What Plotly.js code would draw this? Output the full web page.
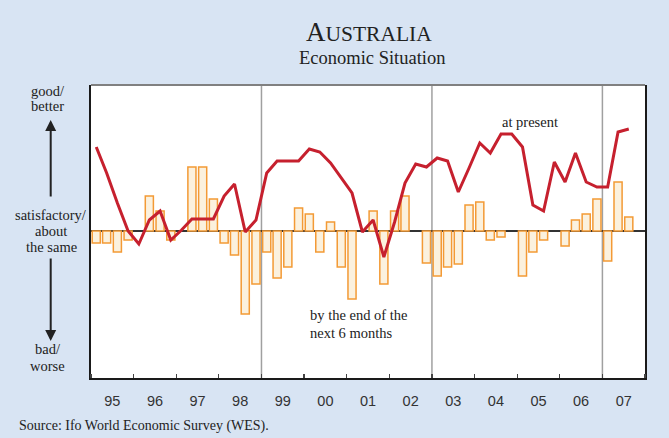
<!DOCTYPE html>
<html>
<head>
<meta charset="utf-8">
<script src="https://cdn.plot.ly/plotly-3.0.1.min.js"></script>
<style>
  html, body { margin: 0; padding: 0; background: #d8e4f3; }
  #chart { width: 669px; height: 438px; }
</style>
</head>
<body>
<div id="chart"></div>
<script>
// ---- Data (quarterly, 1995 Q1 - 2007 Q3) ----
const years = [1995, 1996, 1997, 1998, 1999, 2000, 2001, 2002, 2003, 2004, 2005, 2006, 2007];
const quarterMid = ['02-15', '05-15', '08-15', '11-15'];
const yearLabels = ['95', '96', '97', '98', '99', '00', '01', '02', '03', '04', '05', '06', '07'];

// Economic situation "at present" (line)
const atPresent = [
  84, 58, 28, 0,
  -13, 11, 20, -9,
  1, 12, 12, 12,
  35, 47, -1, 11,
  58, 70, 70, 70,
  82, 79, 68, 53,
  38, -1, 11, -26,
  9, 48, 67, 64,
  73, 70, 39, 63,
  88, 78, 97, 97,
  84, 26, 20, 69,
  49, 78, 49, 44,
  44, 99, 102
];

// Expectations "by the end of the next 6 months" (bars)
const expectations = [
  -12, -12, -21, -9,
  null, 35, 20, -9,
  null, 64, 64, 32,
  -12, -24, -83, -53,
  -21, -47, -36, 23,
  17, -21, 9, -36,
  -68, null, 20, -53,
  20, 35, null, -32,
  -45, -36, -33, 26,
  29, -9, -6, null,
  -45, -21, -9, null,
  -15, 11, 17, 32,
  -30, 49, 14
];

const dividerYears = ['1999-01-01', '2003-01-01', '2007-01-01'];

// ---- Build quarter dates ----
const quarters = [];
years.forEach(y => quarterMid.forEach(m => quarters.push(y + '-' + m)));
const xBar = quarters.slice(0, expectations.length);
const xLine = quarters.slice(0, atPresent.length);
const yearMid = years.map(y => y + '-07-02');

const serif = 'Liberation Serif, Times New Roman, serif';
const sans = 'Liberation Sans, Arial, sans-serif';

const traces = [
  {
    type: 'bar',
    x: xBar,
    y: expectations,
    width: 0.19 * 365.25 * 86400000,
    marker: { color: '#fbf1de', line: { color: '#f39a35', width: 1.5 } },
    hoverinfo: 'x+y',
    showlegend: false
  },
  {
    type: 'scatter',
    mode: 'lines',
    x: xLine,
    y: atPresent,
    line: { color: '#c6202e', width: 3 },
    showlegend: false
  }
];

const W = 554, H = 293, L = 91, T = 85;
const xp = px => (px - L) / W;
const yp = py => (T + H - py) / H;

const shapes = dividerYears.map(d => ({
  type: 'line', xref: 'x', yref: 'paper', x0: d, x1: d, y0: 0, y1: 1,
  line: { color: '#a0a0a0', width: 1.5 }, layer: 'below'
}));
shapes.push({
  type: 'line', xref: 'paper', yref: 'paper', x0: 0, x1: 1, y0: 1, y1: 1,
  line: { color: '#808080', width: 2 }
});

function txt(text, px, py, size, opts) {
  return Object.assign({
    text: text, xref: 'paper', yref: 'paper', x: xp(px), y: yp(py),
    xanchor: 'center', yanchor: 'middle', showarrow: false,
    font: { family: serif, size: size, color: '#222' }
  }, opts || {});
}

const annotations = [
  txt('<span style="font-size:27px">A</span>USTRALIA', 369, 32, 21.5),
  txt('Economic Situation', 372, 58, 18.5),
  txt('good/', 48, 91, 14.5),
  txt('better', 48, 106, 14.5),
  txt('satisfactory/', 51, 215, 14.5),
  txt('about', 51, 231, 14.5),
  txt('the same', 51, 247, 14.5),
  txt('bad/', 48, 349, 14.5),
  txt('worse', 48, 366, 14.5),
  txt('at present', 530, 122, 14.5),
  txt('by the end of the', 308, 315, 14.5, { xanchor: 'left' }),
  txt('next 6 months', 308, 333, 14.5, { xanchor: 'left' }),
  txt('Source: Ifo World Economic Survey (WES).', 17, 426, 14, { xanchor: 'left' }),
  {
    text: '', xref: 'paper', yref: 'paper', x: xp(50.7), y: yp(120),
    showarrow: true, ax: 0, ay: 78, arrowhead: 2, arrowsize: 1.1, arrowwidth: 2, arrowcolor: '#222'
  },
  {
    text: '', xref: 'paper', yref: 'paper', x: xp(50.7), y: yp(341),
    showarrow: true, ax: 0, ay: -84, arrowhead: 2, arrowsize: 1.1, arrowwidth: 2, arrowcolor: '#222'
  }
];

const layout = {
  width: 669, height: 438,
  margin: { l: L, r: 669 - L - W, t: T, b: 438 - T - H, pad: 0 },
  paper_bgcolor: '#d8e4f3',
  plot_bgcolor: '#ffffff',
  bargap: 0,
  xaxis: {
    type: 'date',
    range: ['1995-01-01', '2008-01-01'],
    tick0: '1995-01-01', dtick: 'M12',
    tickformat: '%y',
    ticklabelmode: 'period',
    ticks: 'inside', ticklen: 4, tickwidth: 1.2, tickcolor: '#444',
    ticklabelstandoff: 9,
    tickfont: { family: sans, size: 14.5, color: '#333' },
    showgrid: false, zeroline: false,
    showline: true, linecolor: '#1a1a1a', linewidth: 2
  },
  yaxis: {
    range: [-147, 146],
    showticklabels: false, ticks: '', showgrid: false,
    zeroline: true, zerolinecolor: '#333', zerolinewidth: 1.5,
    showline: true, linecolor: '#1a1a1a', linewidth: 2, mirror: true,
    fixedrange: true
  },
  shapes: shapes,
  annotations: annotations
};

Plotly.newPlot('chart', traces, layout, { displayModeBar: false, staticPlot: true });
</script>
</body>
</html>
